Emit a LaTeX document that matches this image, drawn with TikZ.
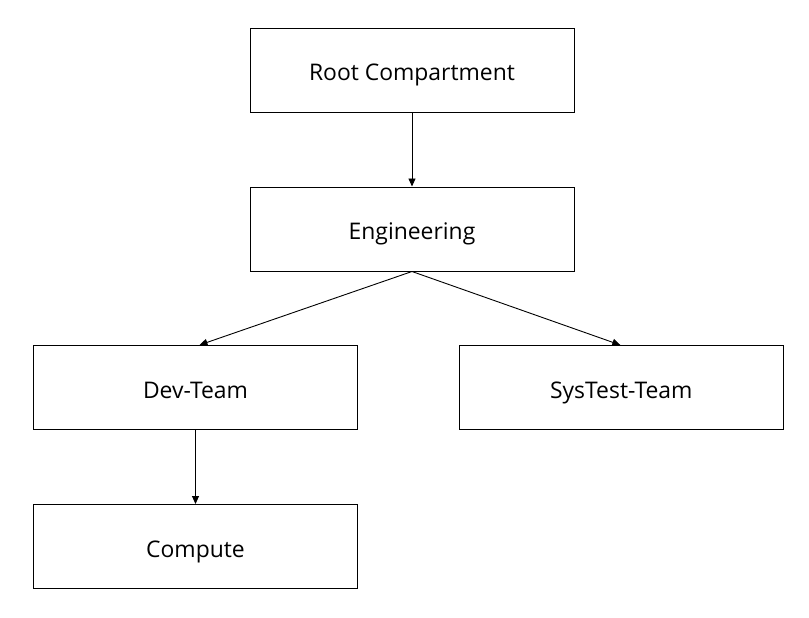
\documentclass[tikz,border=0pt]{standalone}
\usepackage{fontspec}
\setmainfont{Open Sans}
\usetikzlibrary{arrows.meta,calc}
\begin{document}
\begin{tikzpicture}[x=1pt,y=-1pt,
  box/.style={draw=black,line width=1pt,minimum width=324pt,minimum height=84pt,inner sep=0pt,text height=21pt,text depth=0pt,font=\fontsize{22.9}{27}\selectfont},
  link/.style={draw=black,line width=0.9pt,-{Triangle[length=8pt,width=7pt]}}]
\useasboundingbox[fill=white] (0,0) rectangle (809,618);
\node[box] (root) at (412,70.5) {Root Compartment};
\node[box] (eng) at (412,229) {Engineering};
\node[box] (dev) at (195.5,387.5) {Dev-Team};
\node[box] (sys) at (621.3,387.5) {SysTest-Team};
\node[box] (comp) at (195.5,546.5) {Compute};
\draw[link] (root.south) -- (eng.north);
\draw[link] (eng.south) -- ($(dev.north)+(4,0)$);
\draw[link] (eng.south) -- ($(sys.north)+(-1,0)$);
\draw[link] (dev.south) -- (comp.north);
\end{tikzpicture}
\end{document}
